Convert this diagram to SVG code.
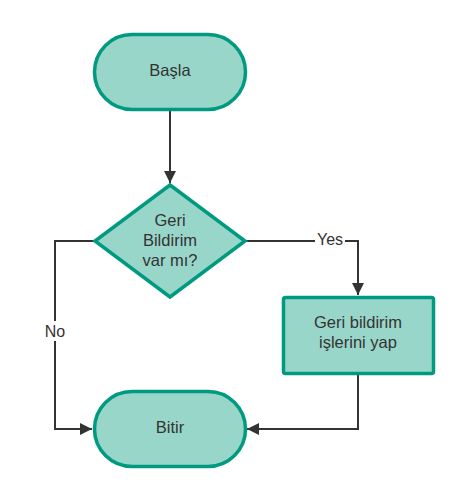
<svg xmlns="http://www.w3.org/2000/svg" width="457" height="492" viewBox="0 0 457 492">
<defs>
<style>
.shape{fill:#99d6ca;stroke:#009a80;stroke-width:3.5}
.lbl{font-family:"Liberation Sans",Arial,sans-serif;font-size:16.5px;fill:#333;text-anchor:middle}
.edge{fill:none;stroke:#333;stroke-width:2}
.elbl{font-family:"Liberation Sans",Arial,sans-serif;font-size:16px;fill:#333;text-anchor:middle}
</style>
<marker id="ah" viewBox="0 0 12 12" refX="12" refY="6" markerWidth="12" markerHeight="12" markerUnits="userSpaceOnUse" orient="auto">
<path d="M0,0 L12,6 L0,12 z" fill="#333"/>
</marker>
</defs>
<rect width="457" height="492" fill="#fff"/>
<g id="connectors">
<path class="edge" d="M170,110 V183" marker-end="url(#ah)"/>
<path class="edge" d="M94,241 H55 V429 H92" marker-end="url(#ah)"/>
<path class="edge" d="M246,241 H358 V295" marker-end="url(#ah)"/>
<path class="edge" d="M358,374 V429 H247" marker-end="url(#ah)"/>
<rect x="43" y="321" width="24" height="20" fill="#fff"/>
<text class="elbl" x="55" y="337">No</text>
<rect x="315" y="230" width="30" height="20" fill="#fff"/>
<text class="elbl" x="330" y="245">Yes</text>
</g>
<g id="start">
<rect class="shape" x="94.5" y="34.5" width="151" height="75" rx="37.5"/>
<text class="lbl" x="170" y="76">Başla</text>
</g>
<g id="decision">
<path class="shape" d="M170,185 L245,241 L170,297 L95,241 Z"/>
<text class="lbl" x="170" y="226">Geri</text>
<text class="lbl" x="170" y="246">Bildirim</text>
<text class="lbl" x="170" y="266">var mı?</text>
</g>
<g id="process">
<rect class="shape" x="283.5" y="297.5" width="150" height="76" rx="2"/>
<text class="lbl" x="358" y="328">Geri bildirim</text>
<text class="lbl" x="358" y="348">işlerini yap</text>
</g>
<g id="end">
<rect class="shape" x="94.5" y="391.5" width="151" height="75" rx="37.5"/>
<text class="lbl" x="170" y="433">Bitir</text>
</g>
</svg>
